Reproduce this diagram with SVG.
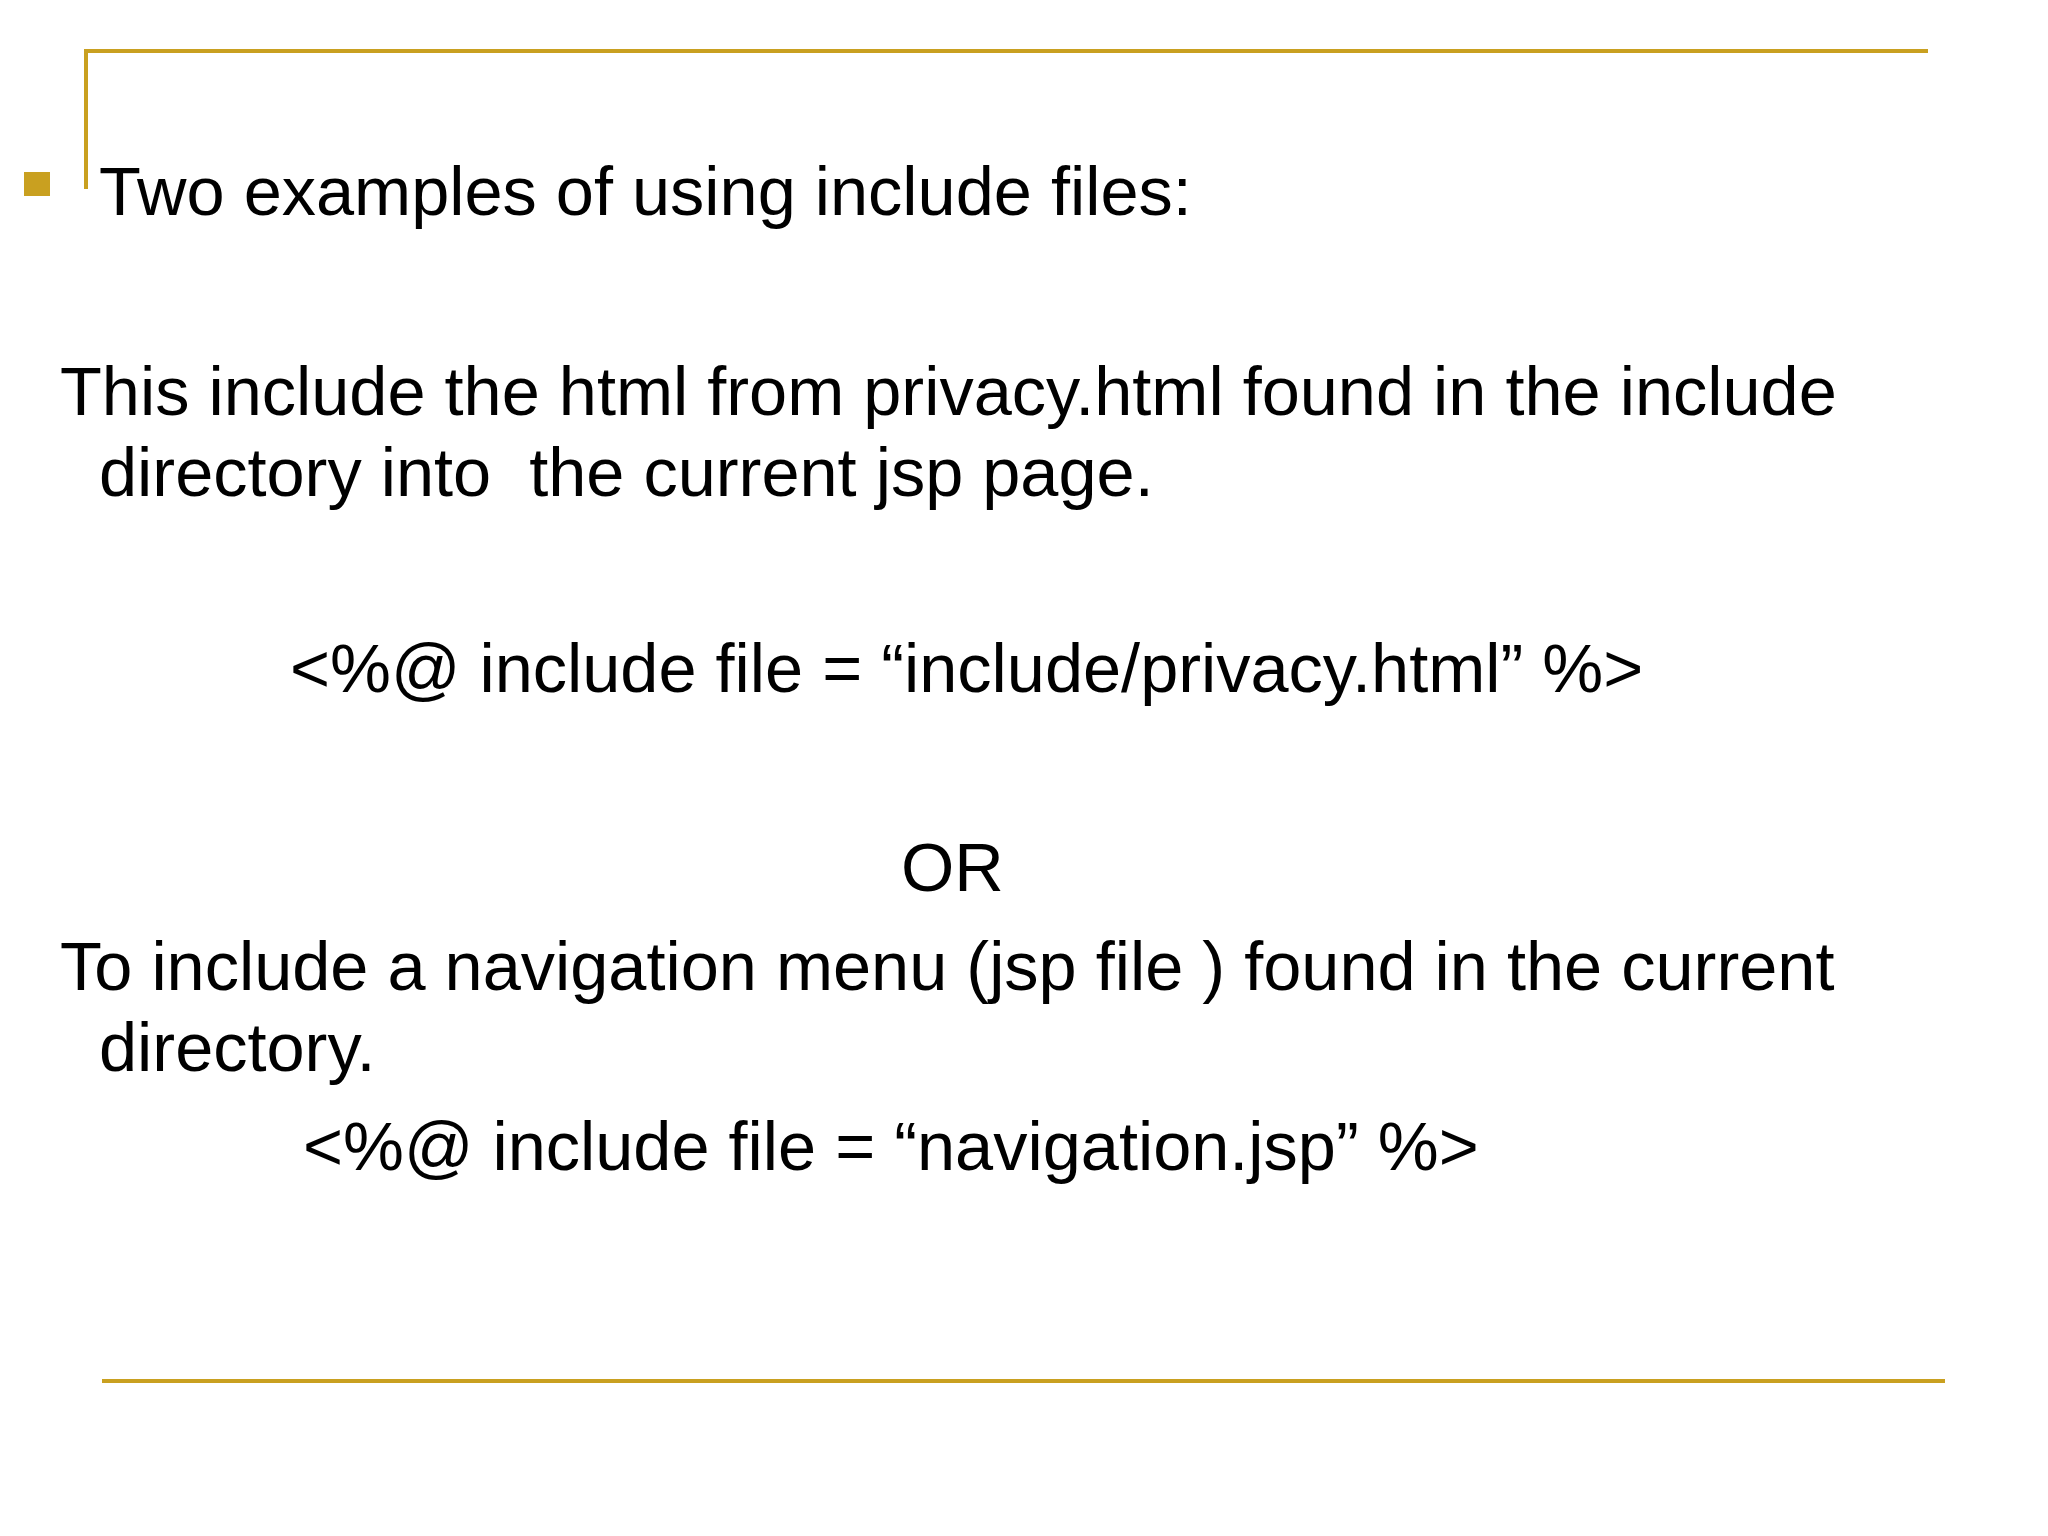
<svg xmlns="http://www.w3.org/2000/svg" width="2048" height="1536" viewBox="0 0 2048 1536">
<style>
.t{font-family:"Liberation Sans",Arial,sans-serif;font-size:68.5px;fill:#000}
.g{stroke:#C9A020;stroke-width:4;fill:none}
</style>
<rect width="2048" height="1536" fill="#fff"/>
<g id="frame">
<line class="g" x1="84" y1="51" x2="1928" y2="51"/>
<line class="g" x1="86" y1="51" x2="86" y2="189"/>
<line class="g" x1="102" y1="1381" x2="1945" y2="1381"/>
<rect x="24" y="172" width="26" height="24" fill="#C9A020"/>
</g>
<g id="text">
<text class="t" x="99" y="215">Two examples of using include files:</text>
<text class="t" x="60" y="415">This include the html from privacy.html found in the include</text>
<text class="t" x="99" y="496" xml:space="preserve">directory into  the current jsp page.</text>
<text class="t" x="290" y="692">&lt;%@ include file = “include/privacy.html” %&gt;</text>
<text class="t" x="901" y="891">OR</text>
<text class="t" x="60" y="990">To include a navigation menu (jsp file ) found in the current</text>
<text class="t" x="99" y="1071">directory.</text>
<text class="t" x="303" y="1170">&lt;%@ include file = “navigation.jsp” %&gt;</text>
</g>
</svg>
